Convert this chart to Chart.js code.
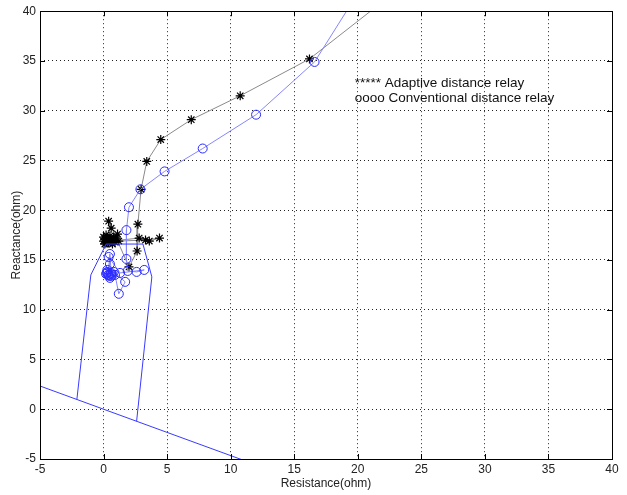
<!DOCTYPE html>
<html>
<head>
<meta charset="utf-8">
<script src="https://cdn.jsdelivr.net/npm/chart.js@4/dist/chart.umd.min.js"></script>
<style>
body { margin: 0; background: #fff; }
</style>
</head>
<body>
<canvas id="chart" width="627" height="495"></canvas>
<script>
// tick values
var xTicks = [-5, 0, 5, 10, 15, 20, 25, 30, 35, 40];
var yTicks = [-5, 0, 5, 10, 15, 20, 25, 30, 35, 40];

// relay characteristic (blue): directional line and quadrilateral zone
var lineR = [-6, 12];
var lineX = [2.80, -5.59];
var zoneR = [-2.1, -1.0, 0.2, 3.1, 3.8, 2.6];
var zoneX = [0.98, 13.5, 16.6, 16.6, 13.3, -1.21];

// adaptive distance relay trajectory (stars)
var adaptiveR = [26, 16.2, 10.75, 6.9, 4.5, 3.4, 2.95, 2.7, 2.64, 2.0, 1.0, 0.4, 0.6, 0.2, 0.0, 0.4, 0.8, 1.1, 0.3, 0.1, 0.6, 2.8, 3.6, 4.4, 3.3, 1.2, 0.5, 0.2, 0.7, 0.0, 0.9, 0.3, 0.5, 0.1, 0.8, 0.4, 0.2];
var adaptiveX = [45, 35.2, 31.5, 29.1, 27.1, 24.9, 22.1, 18.6, 15.9, 14.3, 17.2, 18.9, 18.2, 17.5, 16.9, 16.7, 17.0, 17.6, 17.2, 16.6, 16.9, 17.2, 16.9, 17.2, 17.0, 16.9, 17.1, 16.8, 16.6, 17.3, 16.8, 16.9, 17.4, 17.1, 17.3, 17.0, 16.7];

// conventional distance relay trajectory (circles)
var convR = [20.0, 16.6, 12.0, 7.8, 4.8, 2.9, 2.0, 1.8, 1.8, 1.9, 2.6, 3.2, 1.3, 0.4, 0.5, 0.3, 0.6, 0.2, 0.5, 0.8, 1.7, 1.2, 0.9, 0.4, 0.3, 0.6, 0.5, 0.35, 0.55, 0.45, 0.25, 0.7];
var convX = [41.8, 34.9, 29.6, 26.2, 23.9, 22.1, 20.3, 18.0, 15.1, 13.9, 13.8, 14.0, 13.7, 15.3, 14.6, 13.8, 13.4, 13.6, 13.2, 13.8, 12.8, 11.6, 13.5, 13.5, 14.0, 13.7, 15.6, 13.5, 13.6, 13.4, 13.7, 13.5];

var noteLines = ['***** Adaptive distance relay', 'oooo Conventional distance relay'];
var noteR = 19.76;
var noteX = [32.8, 31.2];

function pts(xs, ys) {
    return xs.map(function(v, i) { return {x: v, y: ys[i]}; });
}

var fontFamily = '"Liberation Sans", Arial, sans-serif';

// box, inward tick marks and the text note
var boxPlugin = {
    id: 'box',
    afterDraw: function(chart) {
        var ctx = chart.ctx;
        var a = chart.chartArea;
        var sx = chart.scales.x, sy = chart.scales.y;
        ctx.save();
        ctx.strokeStyle = '#000';
        ctx.lineWidth = 1;
        ctx.strokeRect(Math.round(a.left) + 0.5, Math.round(a.top) + 0.5,
            Math.round(a.right - a.left), Math.round(a.bottom - a.top));
        ctx.beginPath();
        xTicks.forEach(function(t) {
            var p = Math.round(sx.getPixelForValue(t)) + 0.5;
            ctx.moveTo(p, a.bottom); ctx.lineTo(p, a.bottom - 5);
            ctx.moveTo(p, a.top); ctx.lineTo(p, a.top + 5);
        });
        yTicks.forEach(function(t) {
            var p = Math.round(sy.getPixelForValue(t)) + 0.5;
            ctx.moveTo(a.left, p); ctx.lineTo(a.left + 5, p);
            ctx.moveTo(a.right, p); ctx.lineTo(a.right - 5, p);
        });
        ctx.stroke();

        ctx.fillStyle = '#111';
        ctx.font = '13.5px ' + fontFamily;
        ctx.textBaseline = 'middle';
        ctx.textAlign = 'left';
        noteLines.forEach(function(txt, i) {
            ctx.fillText(txt, sx.getPixelForValue(noteR), sy.getPixelForValue(noteX[i]));
        });
        ctx.restore();
    }
};

var ctx = document.getElementById('chart').getContext('2d');
var chart = new Chart(ctx, {
    type: 'scatter',
    data: {
        datasets: [{
            data: pts(lineR, lineX),
            showLine: true,
            borderColor: '#3a3aff',
            borderWidth: 1,
            pointRadius: 0
        }, {
            data: pts(zoneR, zoneX),
            showLine: true,
            borderColor: '#3a3aff',
            borderWidth: 1,
            pointRadius: 0
        }, {
            data: pts(convR, convX),
            showLine: true,
            borderColor: '#8686ff',
            borderWidth: 1,
            pointStyle: 'circle',
            pointRadius: 4.5,
            pointBorderWidth: 1,
            pointBorderColor: '#2a2aff',
            pointBackgroundColor: 'rgba(0,0,0,0)'
        }, {
            data: pts(adaptiveR, adaptiveX),
            showLine: true,
            borderColor: '#8a8a8a',
            borderWidth: 1,
            pointStyle: 'star',
            pointRadius: 4.5,
            pointBorderWidth: 1.2,
            pointBorderColor: '#000',
            pointBackgroundColor: '#000'
        }]
    },
    options: {
        responsive: false,
        animation: false,
        layout: {
            padding: {top: 8, right: 15, left: 0, bottom: 0}
        },
        plugins: {
            legend: { display: false },
            tooltip: { enabled: false }
        },
        scales: {
            x: {
                type: 'linear',
                min: -5,
                max: 40,
                afterBuildTicks: function(s) { s.ticks = xTicks.map(function(v) { return {value: v}; }); },
                afterFit: function(s) { s.height = 36; },
                ticks: {
                    color: '#222',
                    padding: 3,
                    font: { family: fontFamily, size: 12 }
                },
                grid: { color: '#222', drawTicks: false },
                border: { display: false, dash: [1, 3] },
                title: {
                    display: true,
                    text: 'Resistance(ohm)',
                    color: '#222',
                    padding: {top: 0, bottom: 4},
                    font: { family: fontFamily, size: 12 }
                }
            },
            y: {
                type: 'linear',
                min: -5,
                max: 40,
                afterBuildTicks: function(s) { s.ticks = yTicks.map(function(v) { return {value: v}; }); },
                afterFit: function(s) { s.width = 40; },
                ticks: {
                    color: '#222',
                    padding: 4,
                    font: { family: fontFamily, size: 12 }
                },
                grid: { color: '#222', drawTicks: false },
                border: { display: false, dash: [1, 3] },
                title: {
                    display: true,
                    text: 'Reactance(ohm)',
                    color: '#222',
                    padding: {top: 9, bottom: 0},
                    font: { family: fontFamily, size: 12 }
                }
            }
        }
    },
    plugins: [boxPlugin]
});
</script>
</body>
</html>
